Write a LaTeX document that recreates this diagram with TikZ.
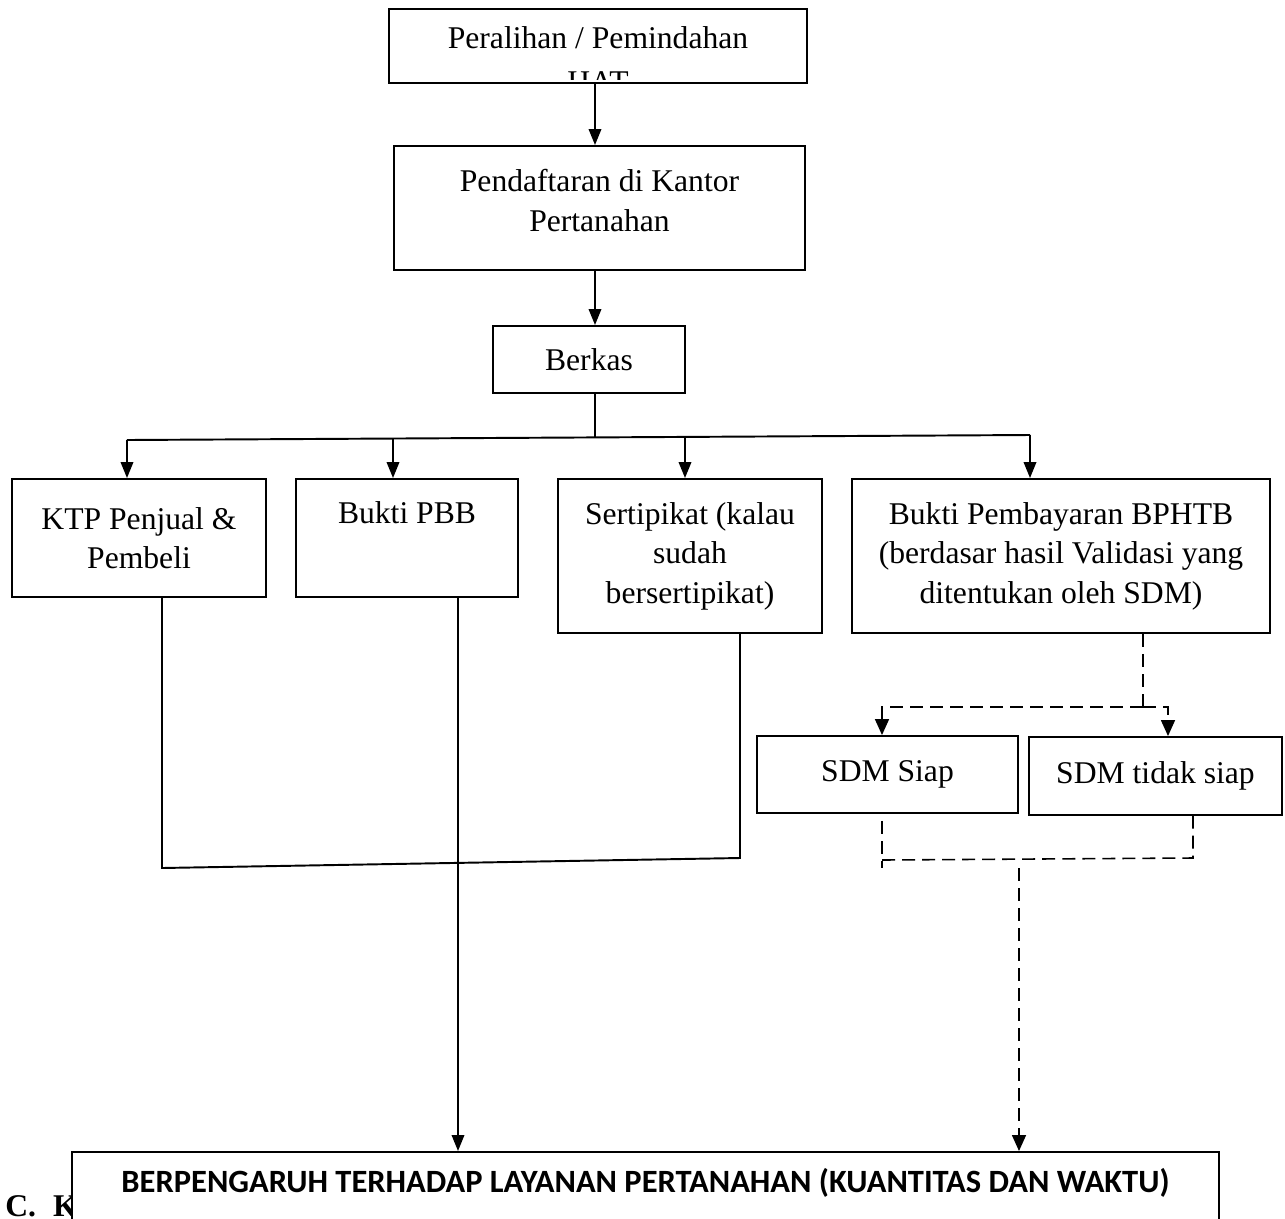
\documentclass[tikz,border=0pt]{standalone}
\usepackage{fontspec}
\setmainfont{Liberation Serif}
\newfontfamily\calibri{Carlito}
\usetikzlibrary{calc, positioning, arrows.meta}

\begin{document}
\begin{tikzpicture}[x=0.02cm,y=-0.02cm,
  box/.style={draw,line width=1.1pt,align=center,inner sep=0pt,font=\fontsize{18}{22.5}\selectfont},
  txt/.style={align=center,inner sep=0pt,font=\fontsize{18}{22.5}\selectfont},
  arr/.style={line width=1.1pt,-{Triangle[length=0.32cm,width=0.25cm]}},
  dsh/.style={line width=0.9pt,dash pattern=on 7.4pt off 4pt},
  darr/.style={dsh,-{Triangle[length=0.32cm,width=0.28cm]}}]
\path[use as bounding box,fill=white] (0,0) rectangle (1285,1218);

% top of the chart
\node[box,minimum width=8.36cm,minimum height=1.48cm] (hat) at (598,46) {};
\begin{scope}
\clip (hat.north west) rectangle ([yshift=0.08cm]hat.south east);
\node[txt,anchor=north] (hattext) at ([yshift=-0.36cm]hat.north) {Peralihan / Pemindahan\\[2.4pt]HAT};
\end{scope}
\node[box,minimum width=8.22cm,minimum height=2.48cm,text depth=0.3cm] (daftar) at (599.5,208) {Pendaftaran di Kantor\\Pertanahan};
\node[box,minimum width=3.84cm,minimum height=1.34cm] (berkas) at (589,359.5) {Berkas};

% the four documents
\node[box,minimum width=5.08cm,minimum height=2.36cm] (ktp) at (139,538) {KTP Penjual \&\\Pembeli};
\node[box,minimum width=4.44cm,minimum height=2.36cm,text height=0.5cm,text depth=1.08cm] (pbb) at (407,538) {Bukti PBB};
\node[box,minimum width=5.28cm,minimum height=3.08cm] (sert) at (690,556) {Sertipikat (kalau\\sudah\\bersertipikat)};
\node[box,minimum width=8.36cm,minimum height=3.08cm] (bphtb) at (1061,556) {Bukti Pembayaran BPHTB\\(berdasar hasil Validasi yang\\ditentukan oleh SDM)};

\node[box,minimum width=5.22cm,minimum height=1.54cm] (siap) at (887.5,774.5) {SDM Siap};
\node[box,minimum width=5.06cm,minimum height=1.56cm] (tdksiap) at (1155.5,776) {SDM tidak siap};

% bottom
\node[anchor=base west,inner sep=0pt,font=\bfseries\fontsize{18}{22}\selectfont] (bab) at (5,1216) {C.\hspace{0.54em}K};
\node[box,fill=white,anchor=north,minimum width=22.94cm,minimum height=2.8cm,text height=0.5cm,text depth=1.66cm,
  font=\calibri\bfseries\fontsize{18.5}{22}\selectfont] (hasil) at (645.5,1151) {BERPENGARUH TERHADAP LAYANAN PERTANAHAN (KUANTITAS DAN WAKTU)};

% connectors
\coordinate (spine) at (595,0);
\coordinate (b1) at (127,440);
\coordinate (b2) at (393,439);
\coordinate (b3) at (685,437);
\coordinate (b4) at (1030,435);
\coordinate (bj) at (595,437.5);
\draw[arr] (hat.south -| spine) -- (daftar.north -| spine);
\draw[arr] (daftar.south -| spine) -- (berkas.north -| spine);
\draw[line width=1.1pt] (berkas.south -| spine) -- (bj);
\draw[line width=1.1pt] (b1) -- (b4);
\foreach \b/\n in {b1/ktp,b2/pbb,b3/sert,b4/bphtb}
  \draw[arr] (\b) -- (\b |- \n.north);

\coordinate (j1) at (162,868);
\coordinate (j2) at (740,858);
\draw[line width=1.1pt] (ktp.south -| j1) -- (j1) -- (j2) -- (sert.south -| j2);
\coordinate (p1) at (458,0);
\draw[arr] (pbb.south -| p1) -- (hasil.north -| p1);

\coordinate (d0) at (1143,707);
\coordinate (s1) at (882,707);
\coordinate (s2) at (1168,707);
\draw[dsh] (bphtb.south -| d0) -- (d0);
\draw[darr] (d0) -- (s1) -- (s1 |- siap.north);
\draw[darr] (d0) -- (s2) -- (s2 |- tdksiap.north);

\coordinate (m1) at (882,860);
\coordinate (m2) at (1193,858);
\coordinate (m3) at (1019,868);
\draw[dsh] ([yshift=-0.14cm]siap.south -| m1) -- ([yshift=-0.16cm]m1);
\draw[dsh] (m1) -- (m2) -- (tdksiap.south -| m2);
\draw[darr] (m3) -- (hasil.north -| m3);
\end{tikzpicture}
\end{document}
